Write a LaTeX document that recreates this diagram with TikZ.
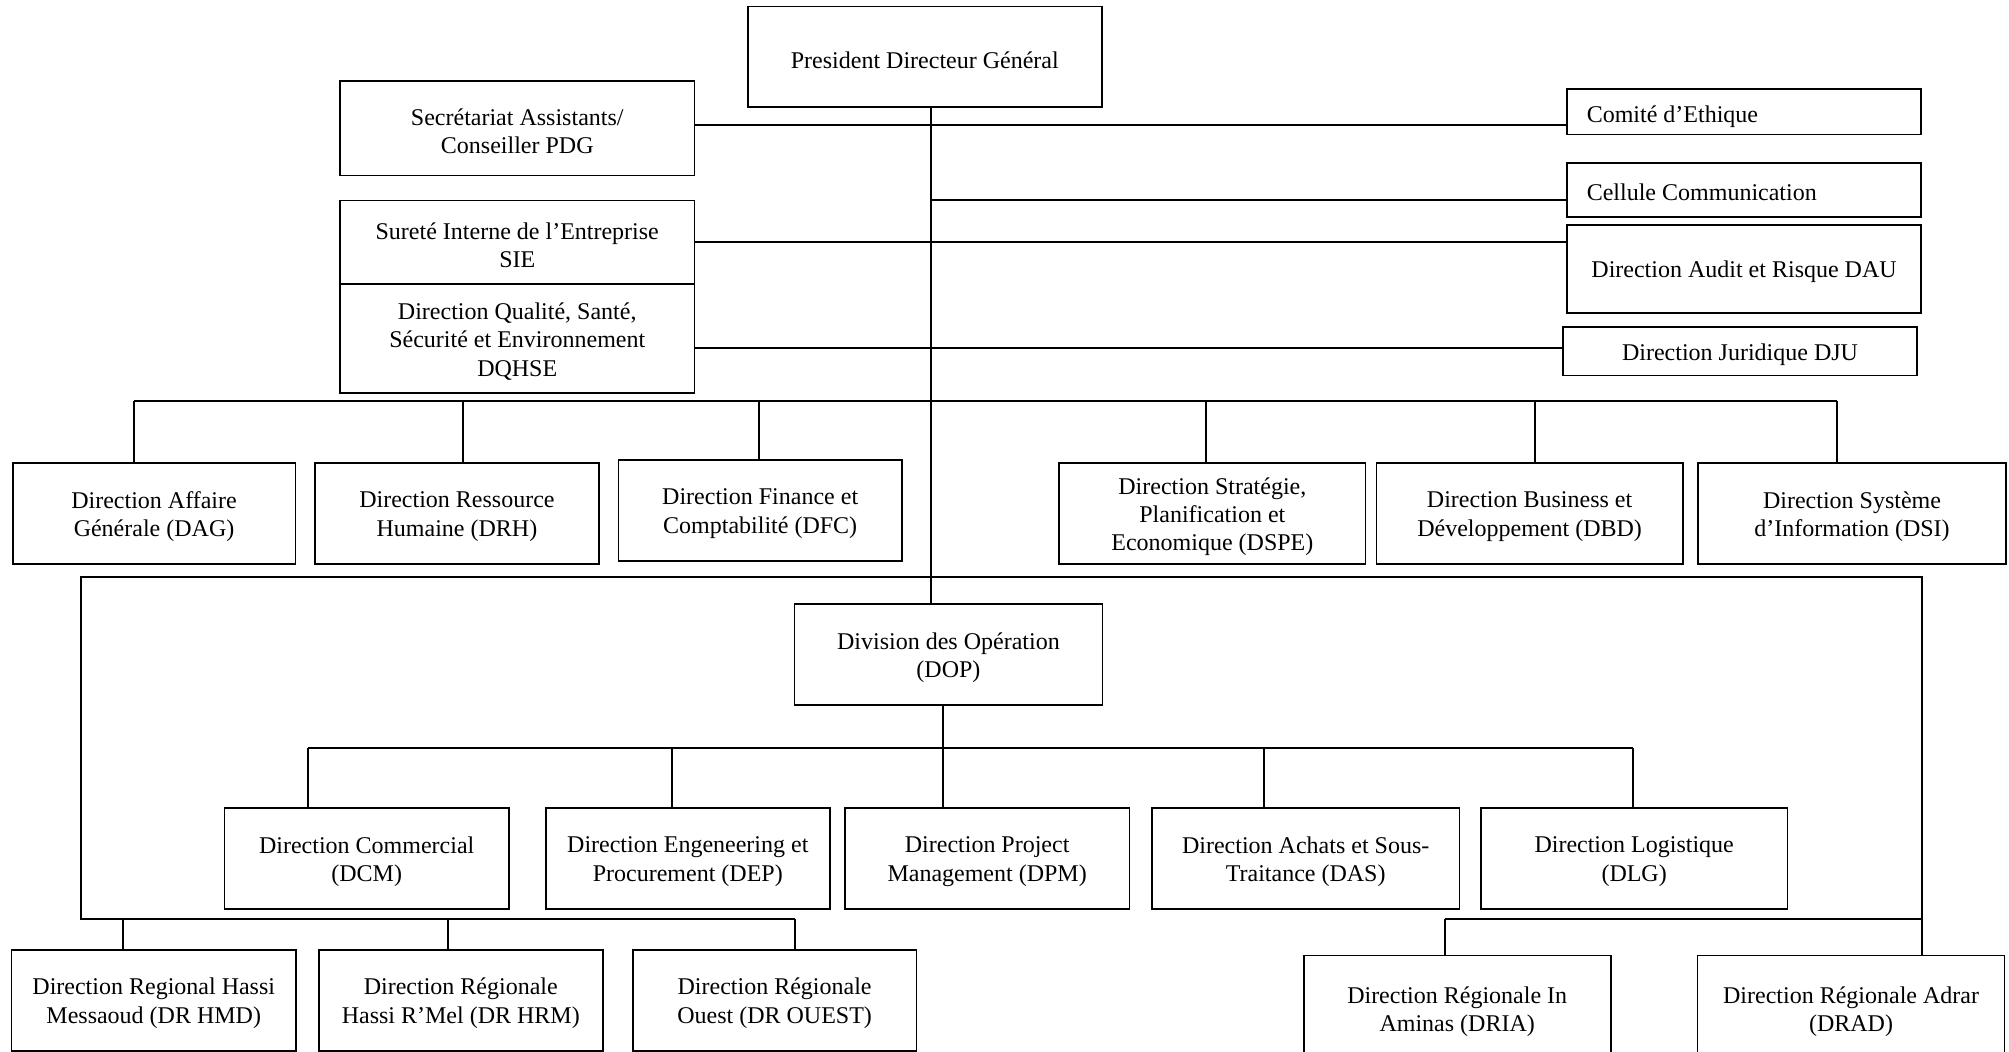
\documentclass[tikz,border=0pt]{standalone}
\usepackage{fontspec}
\setmainfont{Liberation Serif}
\begin{document}
\begin{tikzpicture}[x=0.5pt,y=-0.5pt,
  orgbox/.style={draw, line width=0.8pt, inner sep=0pt},
  boxtext/.style={inner sep=0pt, align=center, font=\fontsize{12}{14.1}\selectfont},
  plain/.style={inner sep=0pt, align=left, font=\fontsize{12}{14.1}\selectfont},
  link/.style={line width=1pt}]
\useasboundingbox (0,0) rectangle (2009,1052);
\fill[white] (0,0) rectangle (2009,1052);
\clip (0,0) rectangle (2009,1052);
\newcommand\obox[6]{\node[orgbox, minimum width={(#4-#2)*0.5pt}, minimum height={(#5-#3)*0.5pt}]
  (#1) at ({(#2+#4)/2},{(#3+#5)/2}) {};
  \node[boxtext] (#1-t) at ([yshift=-1.4pt]#1.center) {#6};}
% top level
\obox{pdg}{747.7}{6.7}{1101.9}{107.3}{President Directeur Général}
\obox{sec}{340.2}{81.3}{694.3}{175.7}{Secrétariat Assistants/\\Conseiller PDG}
\obox{sie}{340.2}{200.7}{694.3}{284.3}{Sureté Interne de l’Entreprise\\SIE}
\obox{dqhse}{340.2}{284.3}{694.3}{393.3}{Direction Qualité, Santé,\\Sécurité et Environnement\\DQHSE}
\obox{eth}{1567.2}{89}{1920.9}{134.7}{}
\node[plain, anchor=west] (etht) at ([xshift=10pt,yshift=-2.2pt]eth.west) {Comité d’Ethique};
\obox{com}{1567.2}{163}{1920.9}{217.3}{}
\node[plain, anchor=west] (comt) at ([xshift=10pt,yshift=-1.3pt]com.west) {Cellule Communication};
\obox{dau}{1567.2}{225.3}{1920.9}{313.3}{Direction Audit et Risque DAU}
\obox{dju}{1563.2}{327.3}{1916.8}{375.7}{Direction Juridique DJU}
% directions row
\obox{dag}{12.8}{463.3}{295.3}{564.3}{Direction Affaire\\Générale (DAG)}
\obox{drh}{315}{463.3}{598.9}{564.3}{Direction Ressource\\Humaine (DRH)}
\obox{dfc}{618.6}{460.3}{901.8}{561.3}{Direction Finance et\\Comptabilité (DFC)}
\obox{dspe}{1059.2}{463.3}{1365.5}{564.3}{Direction Stratégie,\\Planification et\\Economique (DSPE)}
\obox{dbd}{1376.4}{463.3}{1682.8}{564.3}{Direction Business et\\Développement (DBD)}
\obox{dsi}{1698.2}{463.3}{2005.8}{564.3}{Direction Système\\d’Information (DSI)}
% operations
\obox{dop}{794.6}{604.3}{1102.3}{705}{Division des Opération\\(DOP)}
\obox{dcm}{224.5}{808.3}{508.9}{909.3}{Direction Commercial\\(DCM)}
\obox{dep}{545.9}{808.3}{829.7}{909.3}{Direction Engeneering et\\Procurement (DEP)}
\obox{dpm}{845}{808.3}{1129.3}{909.3}{Direction Project\\Management (DPM)}
\obox{das}{1151.9}{808.3}{1459.5}{909.3}{Direction Achats et Sous-\\Traitance (DAS)}
\obox{dlg}{1480.7}{808.3}{1787.6}{909.3}{Direction Logistique\\(DLG)}
% regional
\obox{hmd}{11.5}{950}{296}{1050.7}{Direction Regional Hassi\\Messaoud (DR HMD)}
\obox{hrm}{318.9}{950}{602.7}{1050.7}{Direction Régionale\\Hassi R’Mel (DR HRM)}
\obox{oue}{632.7}{950}{916.5}{1050.7}{Direction Régionale\\Ouest (DR OUEST)}
\obox{dria}{1303.7}{955.7}{1610.7}{1062}{Direction Régionale In\\Aminas (DRIA)}
\obox{drad}{1697.6}{955.7}{2004.5}{1062}{Direction Régionale Adrar\\(DRAD)}
% helper coordinates
\coordinate (tx) at (931,0);
\coordinate (y1) at (0,125);
\coordinate (y2) at (0,200.5);
\coordinate (y3) at (0,241.7);
\coordinate (y4) at (0,348.5);
\coordinate (busL) at (134,401);
\coordinate (busR) at (1836.6,401);
\coordinate (tl) at (81,577.5);
\coordinate (tr) at (1921.5,577.5);
\coordinate (bl) at (81,919.3);
\coordinate (blE) at (795.3,919.3);
\coordinate (brW) at (1444.7,919.3);
\coordinate (opx) at (942.6,0);
\coordinate (obL) at (308,748.3);
\coordinate (obR) at (1632.6,748.3);
% trunk
\draw[link] (pdg.south -| tx) -- (dop.north -| tx);
% staff lines
\draw[link] (sec.east |- y1) -- (eth.west |- y1);
\draw[link] (tx |- y2) -- (com.west |- y2);
\draw[link] (sie.east |- y3) -- (dau.west |- y3);
\draw[link] (dqhse.east |- y4) -- (dju.west |- y4);
% top bus
\draw[link] (busL) -- (busR);
\draw[link] (busL) -- (busL |- dag.north);
\draw[link] (463,401) coordinate (d2) -- (d2 |- drh.north);
\draw[link] (759,401) coordinate (d3) -- (d3 |- dfc.north);
\draw[link] (1206,401) coordinate (d4) -- (d4 |- dspe.north);
\draw[link] (1535.2,401) coordinate (d5) -- (d5 |- dbd.north);
\draw[link] (busR) -- (busR |- dsi.north);
% big frame
\draw[link] (blE) -- (bl) -- (tl) -- (tr) -- (tr |- drad.north);
\draw[link] (brW) -- (tr |- brW);
\draw[link] (brW) -- (brW |- dria.north);
\draw[link] (123.1,919.3) coordinate (r1) -- (r1 |- hmd.north);
\draw[link] (448.3,919.3) coordinate (r2) -- (r2 |- hrm.north);
\draw[link] (blE) -- (blE |- oue.north);
% operations bus
\draw[link] (dop.south -| opx) -- (opx |- obL);
\draw[link] (obL) -- (obR);
\draw[link] (obL) -- (obL |- dcm.north);
\draw[link] (672.2,748.3) coordinate (o2) -- (o2 |- dep.north);
\draw[link] (opx |- obL) -- (opx |- dpm.north);
\draw[link] (1263.8,748.3) coordinate (o4) -- (o4 |- das.north);
\draw[link] (obR) -- (obR |- dlg.north);
\end{tikzpicture}
\end{document}
